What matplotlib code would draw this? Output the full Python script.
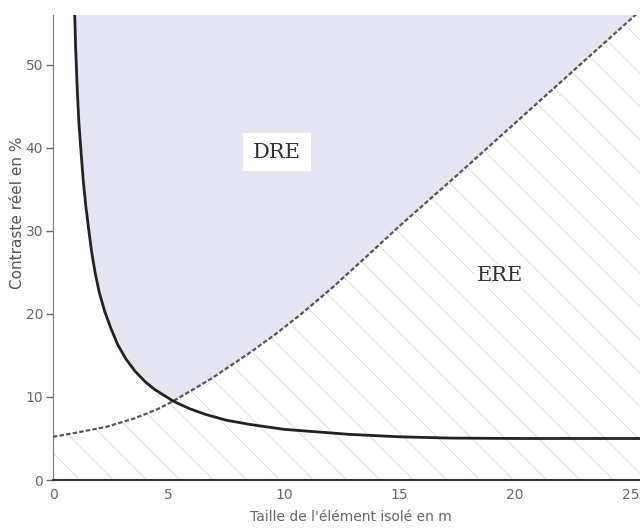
import numpy as np
import matplotlib
matplotlib.use("Agg")
import matplotlib.pyplot as plt

# detection threshold curve (black)
seuil_x = [0.93, 0.98, 1.05, 1.12, 1.2, 1.31, 1.42, 1.53, 1.67, 1.82, 2.0,
           2.25, 2.5, 2.8, 3.15, 3.55, 4.0, 4.4, 5.2, 5.9, 6.6, 7.5, 8.5,
           10.0, 11.4, 12.8, 15.0, 17.2, 20.0, 25.5]
seuil_y = [57.0, 52.0, 47.0, 43.0, 40.0, 36.0, 33.0, 30.5, 27.5, 25.0, 22.6,
           20.2, 18.3, 16.3, 14.6, 13.1, 11.8, 10.9, 9.5, 8.6, 7.9, 7.2, 6.7,
           6.1, 5.8, 5.5, 5.2, 5.05, 5.0, 5.0]

# boundary between DRE and ERE (grey dotted)
limite_x = [0.0, 1.0, 2.3, 3.5, 4.5, 5.2, 6.0, 6.9, 7.7, 8.5, 9.6, 10.7,
            12.1, 13.6, 15.0, 17.4, 19.8, 22.6, 25.4]
limite_y = [5.2, 5.7, 6.4, 7.4, 8.5, 9.5, 10.8, 12.3, 13.8, 15.3, 17.5, 19.9,
            23.2, 27.0, 30.6, 36.5, 42.5, 49.5, 56.5]

x_ticks = [0, 5, 10, 15, 20, 25]
y_ticks = [0, 10, 20, 30, 40, 50]
zones = {"DRE": (9.7, 39.5), "ERE": (19.35, 24.6)}

plt.rcParams["hatch.linewidth"] = 0.5

fig = plt.figure(figsize=(6.4, 5.28), dpi=100)
ax = fig.add_axes([53 / 640, 48 / 528, 587 / 640, 465 / 528])
ax.set_xlim(0, 25.4)
ax.set_ylim(0, 56)

sx, sy = np.array(seuil_x), np.array(seuil_y)
lx, ly = np.array(limite_x), np.array(limite_y)

# DRE zone: right of the threshold curve, above the boundary
poly_x = np.concatenate([sx[sx <= 5.2], lx[lx > 5.2]])
poly_y = np.concatenate([sy[sx <= 5.2], ly[lx > 5.2]])
ax.fill(poly_x, poly_y, color="#e4e4f2", lw=0, zorder=1)

# ERE zone, light diagonal texture
ax.fill(np.concatenate([lx, [25.4, 0]]), np.concatenate([ly, [0, 0]]),
        facecolor="none", edgecolor="#d2d2d2", lw=0, hatch="\\", zorder=1)

ax.plot(lx, ly, color="#555555", lw=1.6, ls=(0, (2, 1)), zorder=3)
ax.plot(sx, sy, color="#222222", lw=2.0, zorder=4)

for nom, (xt, yt) in zones.items():
    ax.text(xt, yt, nom, ha="center", va="center", fontsize=15,
            family="DejaVu Serif", color="#333333", zorder=5,
            bbox=dict(facecolor="white", edgecolor="none", pad=7 if nom == "DRE" else 2))

ax.set_xticks(x_ticks)
ax.set_yticks(y_ticks)
ax.tick_params(axis="x", length=0, pad=6, labelsize=10, labelcolor="#666666")
ax.tick_params(axis="y", length=5, width=1, color="#666666", pad=2,
               labelsize=10, labelcolor="#666666")

for s in ("top", "right"):
    ax.spines[s].set_visible(False)
ax.spines["left"].set_color("#777777")
ax.spines["bottom"].set_color("#333333")
ax.spines["bottom"].set_linewidth(1.5)

ax.set_xlabel("Taille de l'élément isolé en m", fontsize=10, color="#666666")
ax.xaxis.set_label_coords((351 - 53) / 587, -0.065)
ax.set_ylabel("Contraste réel en %", fontsize=11, color="#555555")
ax.yaxis.set_label_coords(-0.048, 0.574)

fig.savefig("out.png", dpi=100)
